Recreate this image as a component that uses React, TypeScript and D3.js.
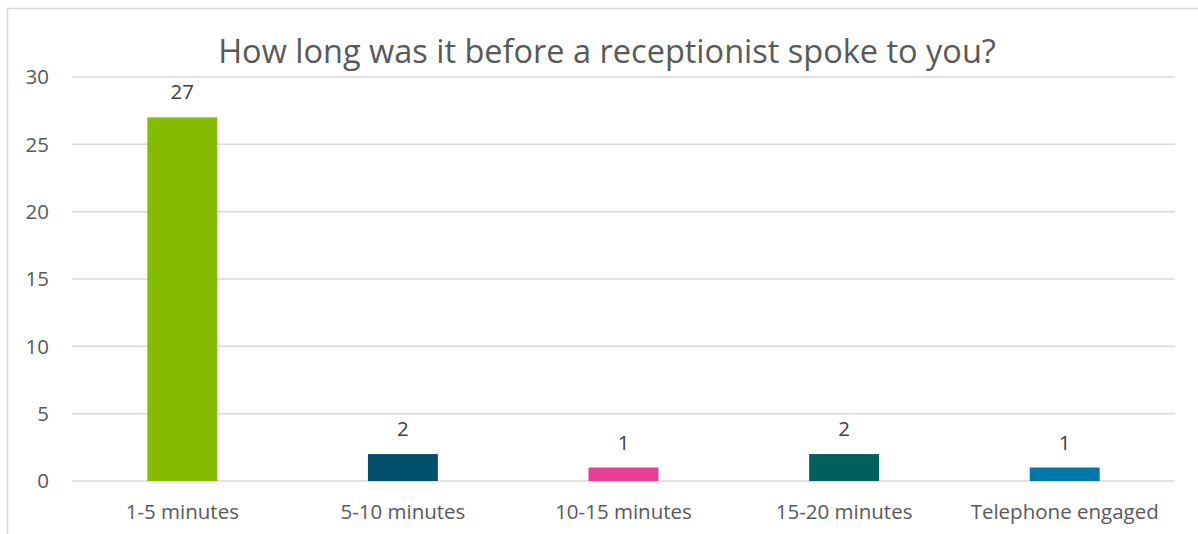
import React from "react";
import * as d3 from "d3";

const categories = ["1-5 minutes", "5-10 minutes", "10-15 minutes", "15-20 minutes", "Telephone engaged"];
const values = [27, 2, 1, 2, 1];
const barColors = ["#84BC00", "#004F6B", "#E83E96", "#00605C", "#0077AA"];
const yTicks = [0, 5, 10, 15, 20, 25, 30];
const title = "How long was it before a receptionist spoke to you?";

const W = 1198;
const H = 534;
const FONT = "'Open Sans', sans-serif";

export default function App() {
  const x = d3.scaleBand<string>().domain(categories).range([72, 1175]).paddingInner(0.683).paddingOuter(0.683 / 2);
  const y = d3.scaleLinear().domain([0, 30]).range([481, 77]);
  return (
    <svg width={W} height={H} style={{ position: "absolute", left: 0, top: 0, background: "#fff" }} fontFamily={FONT}>
      <rect x={7.5} y={8.5} width={W + 20} height={H + 20} fill="#fff" stroke="#D9D9D9" strokeWidth={1.5} />
      <text x={607} y={63} textAnchor="middle" fontSize={32.5} fill="#595959">{title}</text>
      {yTicks.map((t) => (
        <g key={t}>
          <line x1={72} x2={1175} y1={y(t)} y2={y(t)} stroke="#D9D9D9" strokeWidth={1.5} />
          <text x={49} y={y(t)} dy="0.36em" textAnchor="end" fontSize={20.5} fill="#595959">{t}</text>
        </g>
      ))}
      {categories.map((c, i) => (
        <g key={c}>
          <rect x={x(c)} y={y(values[i])} width={x.bandwidth()} height={y(0) - y(values[i])} fill={barColors[i]} />
          <text x={(x(c) as number) + x.bandwidth() / 2} y={y(values[i]) - 18} textAnchor="middle" fontSize={20.5} fill="#404040">{values[i]}</text>
          <text x={(x(c) as number) + x.bandwidth() / 2} y={519} textAnchor="middle" fontSize={20.5} fill="#595959">{c}</text>
        </g>
      ))}
    </svg>
  );
}
